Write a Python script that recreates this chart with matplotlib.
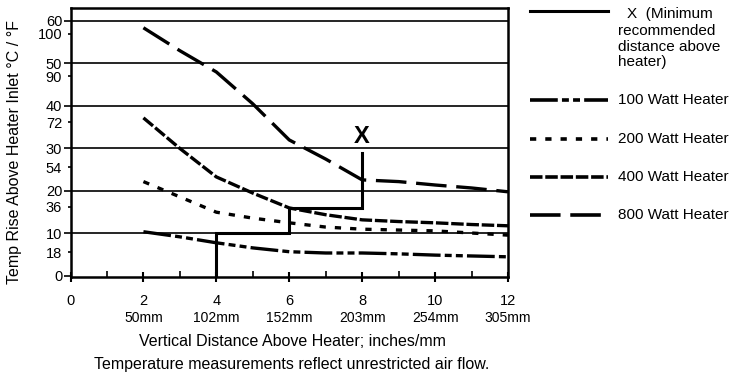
import matplotlib
matplotlib.use("Agg")
import matplotlib.pyplot as plt
from matplotlib.lines import Line2D

plt.rcParams["font.family"] = ["Liberation Sans", "DejaVu Sans"]
plt.rcParams["lines.scale_dashes"] = False

# Distance above heater (inches)
distance_in = [2, 3, 4, 5, 6, 7, 8, 9, 10, 11, 12]

# Temperature rise (°C) for each heater wattage
rise_100w = [10.4, 9.2, 7.8, 6.6, 5.7, 5.4, 5.4, 5.2, 4.9, 4.7, 4.5]
rise_200w = [22.2, 18.6, 15.0, 13.6, 12.5, 11.5, 11.0, 10.8, 10.6, 10.1, 9.6]
rise_400w = [37.2, 30.0, 23.3, 19.5, 16.0, 14.4, 13.2, 12.8, 12.5, 12.1, 11.8]
rise_800w = [58.4, 53.0, 48.0, 40.5, 32.0, 27.5, 22.6, 22.2, 21.4, 20.7, 19.8]

# Minimum recommended distance boundary (staircase)
boundary_x = [4, 4, 6, 6, 8, 8]
boundary_y = [0, 10, 10, 16, 16, 29]

# Axis ticks
x_ticks = [0, 2, 4, 6, 8, 10, 12]
x_tick_labels = ["0", "2", "4", "6", "8", "10", "12"]
mm_labels = ["", "50mm", "102mm", "152mm", "203mm", "254mm", "305mm"]
c_ticks = [0, 10, 20, 30, 40, 50, 60]
f_tick_pos = [5.6, 16.3, 25.6, 36.2, 47.0, 57.0]
f_tick_labels = ["18", "36", "54", "72", "90", "100"]

series_labels = ["100 Watt Heater", "200 Watt Heater", "400 Watt Heater", "800 Watt Heater"]
series_dashes = [(0, (20, 3, 5, 3, 5, 3)), (0, (4.5, 6.5)), (0, (9, 2)), (0, (22, 7))]
series_values = [rise_100w, rise_200w, rise_400w, rise_800w]

W, H = 739, 379
fig = plt.figure(figsize=(W / 100, H / 100), dpi=100)
ax = fig.add_axes([70.5 / W, 1 - 277 / H, 437.5 / W, 269 / H])

ax.set_xlim(0, 12)
ax.set_ylim(-0.25, 63.05)

for y in c_ticks[1:]:
    ax.axhline(y, color="black", lw=1.2, zorder=1)

ax.plot(boundary_x, boundary_y, color="black", lw=2.2, solid_joinstyle="miter", zorder=3)
ax.text(8, 32.7, "X", ha="center", va="center", fontsize=17, fontweight="bold")

for vals, ls in zip(series_values, series_dashes):
    ax.plot(distance_in, vals, color="black", lw=2.4, linestyle=ls, zorder=2)

for s in ax.spines.values():
    s.set_linewidth(1.8)

ax.set_xticks(x_ticks)
ax.set_xticklabels(x_tick_labels, fontsize=10.5)
ax.set_xticks([1, 3, 5, 7, 9, 11], minor=True)
ax.tick_params(axis="x", which="major", direction="inout", length=7, width=1.5, pad=9)
ax.tick_params(axis="x", which="minor", direction="in", length=4, width=1.2)
for xv, mm in zip(x_ticks, mm_labels):
    if mm:
        ax.annotate(mm, xy=(xv, 0), xycoords=("data", "axes fraction"),
                    xytext=(0, -41), textcoords="offset pixels",
                    ha="center", va="center", fontsize=10)

ax.set_yticks(c_ticks)
ax.set_yticklabels([str(v) for v in c_ticks], fontsize=10.5)
ax.set_yticks(f_tick_pos, minor=True)
ax.set_yticklabels(f_tick_labels, minor=True, fontsize=10.5)
ax.tick_params(axis="y", which="major", direction="out", length=5, width=1.2, pad=1)
ax.tick_params(axis="y", which="minor", direction="out", length=2, width=1.2, pad=4)

fig.text(15 / W, 1 - 152 / H, "Temp Rise Above Heater Inlet °C / °F", rotation=90,
         ha="center", va="center", fontsize=11.5)
fig.text(292 / W, 1 - 342 / H, "Vertical Distance Above Heater; inches/mm",
         ha="center", va="center", fontsize=11.5)
fig.text(292 / W, 1 - 364 / H, "Temperature measurements reflect unrestricted air flow.",
         ha="center", va="center", fontsize=11.5)

# Legend drawn at the right of the axes
leg_x0, leg_x1, txt_x = 530 / W, 608 / W, 618 / W
fig.add_artist(Line2D([leg_x0, leg_x1], [1 - 11 / H] * 2, transform=fig.transFigure,
                      color="black", lw=2.2))
fig.text(627 / W, 1 - 14 / H, "X  (Minimum", ha="left", va="center", fontsize=11)
fig.text(txt_x, 1 - 24 / H, "recommended\ndistance above\nheater)",
         ha="left", va="top", fontsize=11, linespacing=1.15)
legend_rows = [100, 139, 177, 215]
for row, lbl, ls in zip(legend_rows, series_labels, series_dashes):
    yy = 1 - row / H
    fig.add_artist(Line2D([leg_x0, leg_x1], [yy, yy], transform=fig.transFigure,
                          color="black", lw=2.6, linestyle=ls))
    fig.text(txt_x, yy, lbl, ha="left", va="center", fontsize=11)

fig.savefig("out.png", dpi=100)
